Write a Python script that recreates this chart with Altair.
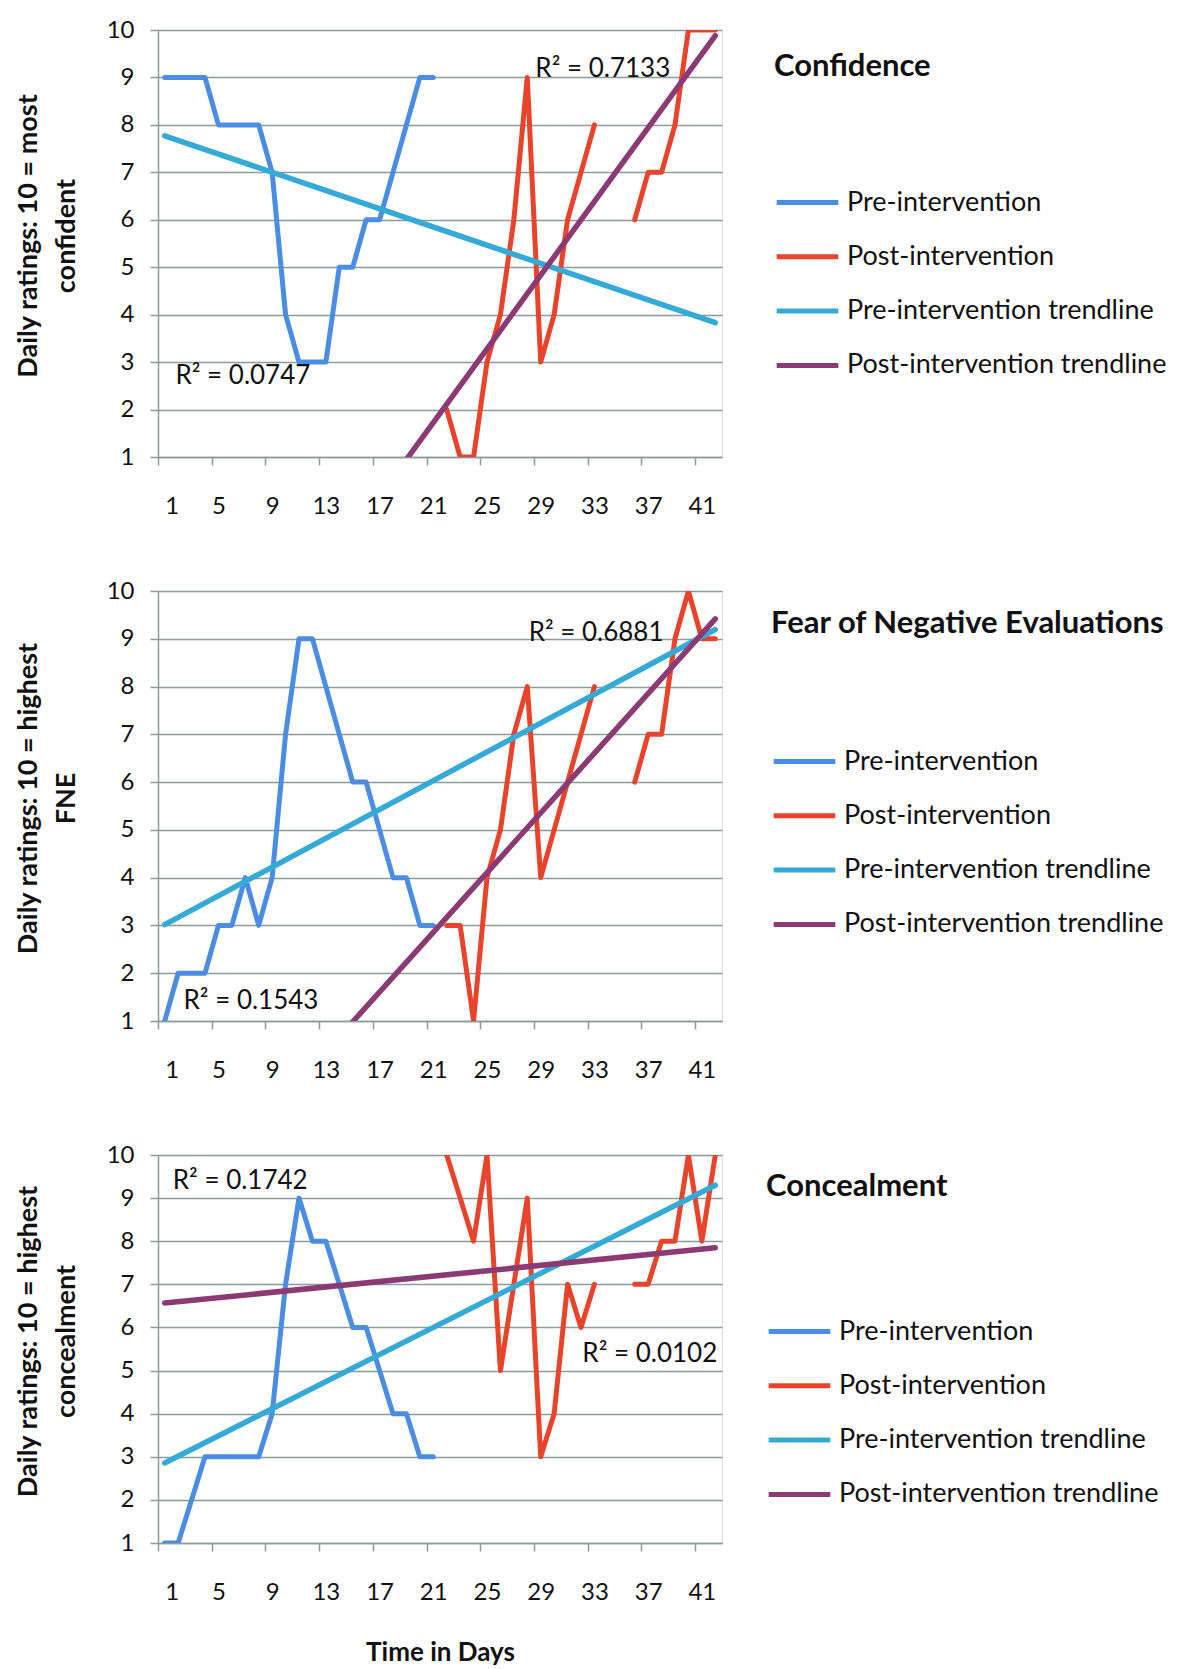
import altair as alt
import pandas as pd

# ---------------- data ----------------
DAYS_PRE = list(range(1, 22))
DAYS_POST = list(range(22, 43))

conf_pre = [9, 9, 9, 9, 8, 8, 8, 8, 7, 4, 3, 3, 3, 5, 5, 6, 6, 7, 8, 9, 9]
conf_post = [2, 1, 1, 3, 4, 6, 9, 3, 4, 6, 7, 8, None, None, 6, 7, 7, 8, 10, 10, 10]

fne_pre = [1, 2, 2, 2, 3, 3, 4, 3, 4, 7, 9, 9, 8, 7, 6, 6, 5, 4, 4, 3, 3]
fne_post = [3, 3, 1, 4, 5, 7, 8, 4, 5, 6, 7, 8, None, None, 6, 7, 7, 9, 10, 9, 9]

conc_pre = [1, 1, 2, 3, 3, 3, 3, 3, 4, 7, 9, 8, 8, 7, 6, 6, 5, 4, 4, 3, 3]
conc_post = [10, 9, 8, 10, 5, 7, 9, 3, 4, 7, 6, 7, None, None, 7, 7, 8, 8, 10, 8, 10]

SERIES = ["Pre-intervention", "Post-intervention",
          "Pre-intervention trendline", "Post-intervention trendline"]
COLORS = ["#4a8de2", "#e8442b", "#36aad7", "#8b3a73"]

TITLES = ["Confidence", "Fear of Negative Evaluations", "Concealment"]
YTITLES = [["Daily ratings: 10 = most", "confident"],
           ["Daily ratings: 10 = highest", "FNE"],
           ["Daily ratings: 10 = highest", "concealment"]]
R2_TEXT = [["R\u00b2 = 0.0747", "R\u00b2 = 0.7133"],
           ["R\u00b2 = 0.1543", "R\u00b2 = 0.6881"],
           ["R\u00b2 = 0.1742", "R\u00b2 = 0.0102"]]
# annotation anchors (data coordinates)
R2_X = [[1.8, 28.6], [2.4, 28.1], [1.6, 32.1]]
R2_Y = [[2.7, 9.18], [1.42, 9.12], [9.4, 5.38]]

FONT = "Lato"
GRID = "#8a9b9b"
INK = "#111111"
CAT_W = 13.43
PLOT_W = round(42 * CAT_W)
HEIGHTS = [427, 430, 388]
LEG_Y = [22, 18, 17]
LEG_X = [616, 613, 608]
LEG_TP = [86, 88, 95]


def panel_df(pre, post):
    rows = []
    for d, v in zip(DAYS_PRE, pre):
        rows.append({"day": d, "value": v, "series": SERIES[0], "seg": 0})
    seg = 1
    for d, v in zip(DAYS_POST, post):
        if v is None:
            seg += 1
            continue
        rows.append({"day": d, "value": v, "series": SERIES[1], "seg": seg})
    return pd.DataFrame(rows)


def make_panel(i, pre, post, last):
    df = panel_df(pre, post)
    color = alt.Color(
        "series:N",
        scale=alt.Scale(domain=SERIES, range=COLORS),
        legend=alt.Legend(
            title=TITLES[i], orient="none", legendX=LEG_X[i], legendY=LEG_Y[i],
            titleFont=FONT, titleFontSize=31, titleFontWeight="bold",
            titleColor=INK, titlePadding=LEG_TP[i], titleLimit=2000,
            labelFont=FONT, labelFontSize=27, labelColor=INK, labelLimit=2000,
            symbolType="stroke", symbolSize=3800, symbolStrokeWidth=5,
            rowPadding=7.3, labelOffset=6,
        ),
    )
    x = alt.X(
        "day:Q",
        scale=alt.Scale(domain=[0.5, 42.5], nice=False, zero=False),
        axis=alt.Axis(
            values=[0.5 + 4 * k for k in range(11)],
            labelExpr="datum.value + 0.5",
            labelOffset=CAT_W / 2,
            grid=False, tickSize=8, tickColor=GRID, domainColor=GRID,
            domainWidth=1.5, tickWidth=1.5,
            labelFont=FONT, labelFontSize=24, labelColor=INK,
            labelPadding=29,
            title="Time in Days" if last else None,
            titleFont=FONT, titleFontSize=26, titleFontWeight="bold",
            titleColor=INK, titlePadding=35,
        ),
    )
    y = alt.Y(
        "value:Q",
        scale=alt.Scale(domain=[1, 10], nice=False, zero=False),
        axis=alt.Axis(
            values=list(range(1, 11)), grid=True, gridColor=GRID, gridWidth=1.5,
            tickSize=8, tickColor=GRID, tickWidth=1.5, domainColor=GRID, domainWidth=1.5,
            labelFont=FONT, labelFontSize=24, labelColor=INK, labelPadding=16,
            title=YTITLES[i], titleFont=FONT, titleFontSize=27, titleFontWeight="bold",
            titleColor=INK, titleAngle=270, titleAlign="center",
            titleBaseline="middle", titleLineHeight=38,
            titleX=-130, titleY=HEIGHTS[i] / 2 - 8,
        ),
    )
    base = alt.Chart(df)
    line_kw = dict(strokeWidth=5, strokeCap="round", strokeJoin="round", clip=True)
    pre_line = base.transform_filter(alt.datum.series == SERIES[0]).mark_line(**line_kw).encode(
        x=x, y=y, color=color, detail="seg:N")
    post_line = base.transform_filter(alt.datum.series == SERIES[1]).mark_line(**line_kw).encode(
        x=x, y=y, color=color, detail="seg:N")
    pre_trend = (base.transform_filter(alt.datum.series == SERIES[0])
                 .transform_regression("day", "value", extent=[1, 42])
                 .transform_calculate(series=f'"{SERIES[2]}"')
                 .mark_line(strokeWidth=5.5, strokeCap="round", clip=True)
                 .encode(x=x, y=y, color=color))
    post_trend = (base.transform_filter(alt.datum.series == SERIES[1])
                  .transform_regression("day", "value", extent=[1, 42])
                  .transform_calculate(series=f'"{SERIES[3]}"')
                  .mark_line(strokeWidth=5.5, strokeCap="round", clip=True)
                  .encode(x=x, y=y, color=color))
    tdf = pd.DataFrame({"x": R2_X[i], "y": R2_Y[i], "t": R2_TEXT[i]})
    txt = alt.Chart(tdf).mark_text(
        align="left", baseline="middle", font=FONT, fontSize=26, color=INK
    ).encode(x=alt.X("x:Q"), y=alt.Y("y:Q"), text="t:N")
    return alt.layer(pre_line, post_line, pre_trend, post_trend, txt).properties(
        width=PLOT_W, height=HEIGHTS[i])


p1 = make_panel(0, conf_pre, conf_post, False)
p2 = make_panel(1, fne_pre, fne_post, False)
p3 = make_panel(2, conc_pre, conc_post, True)

chart = (
    alt.vconcat(p1, p2, p3, spacing=134, bounds="flush")
    .resolve_scale(color="independent")
    .resolve_legend(color="independent")
    .properties(padding={"left": 5, "top": 9, "right": 0, "bottom": 0})
    .configure_view(stroke=None)
    .configure(background="white")
)

chart.save("out.html", embed_options={"renderer": "svg", "actions": False})
